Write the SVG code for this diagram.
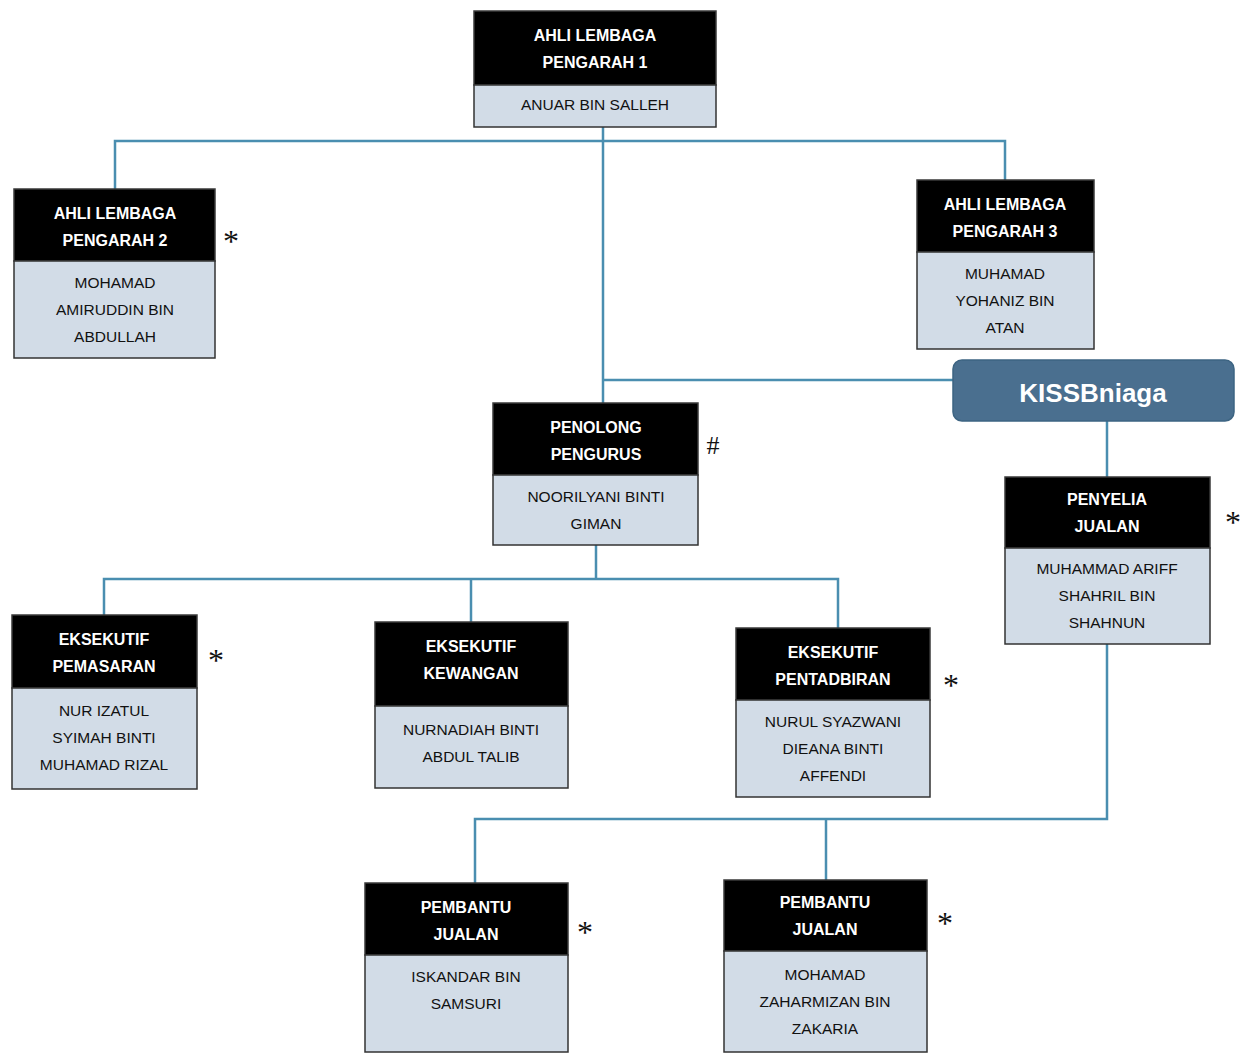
<svg xmlns="http://www.w3.org/2000/svg" width="1253" height="1053" viewBox="0 0 1253 1053">
<style>
.hd{fill:#000;stroke:#3a3a3a;stroke-width:1.5}
.bd{fill:#d2dce7;stroke:#333;stroke-width:1.5}
.ht{font-family:"Liberation Sans",Arial,sans-serif;font-weight:bold;font-size:16px;fill:#fff;text-anchor:middle}
.bt{font-family:"Liberation Sans",Arial,sans-serif;font-size:15.5px;fill:#111;text-anchor:middle}
.mk{font-family:"Liberation Serif","Times New Roman",serif;font-size:32px;fill:#111;text-anchor:middle}
.cn{fill:none;stroke:#4a8eb0;stroke-width:2.5}
</style>
<rect width="1253" height="1053" fill="#fff"/>
<g id="connectors">
<path class="cn" d="M115,189 V141 H1005 V180"/>
<path class="cn" d="M603,127 V403"/>
<path class="cn" d="M603,380 H953"/>
<path class="cn" d="M1107,421 V477"/>
<path class="cn" d="M596,545 V579"/>
<path class="cn" d="M104,615 V579 H838 V628"/>
<path class="cn" d="M471,579 V622"/>
<path class="cn" d="M1107,644 V819 H475 V883"/>
<path class="cn" d="M826,819 V880"/>
</g>
<g id="n1">
<rect class="hd" x="474" y="11" width="242" height="74"/>
<rect class="bd" x="474" y="85" width="242" height="42"/>
<text class="ht" x="595" y="41">AHLI LEMBAGA</text>
<text class="ht" x="595" y="68">PENGARAH 1</text>
<text class="bt" x="595" y="110">ANUAR BIN SALLEH</text>
</g>
<g id="n2">
<rect class="hd" x="14" y="189" width="201" height="72"/>
<rect class="bd" x="14" y="261" width="201" height="97"/>
<text class="ht" x="115" y="219">AHLI LEMBAGA</text>
<text class="ht" x="115" y="246">PENGARAH 2</text>
<text class="bt" x="115" y="288">MOHAMAD</text>
<text class="bt" x="115" y="315">AMIRUDDIN BIN</text>
<text class="bt" x="115" y="342">ABDULLAH</text>
<text class="mk" x="231" y="252">*</text>
</g>
<g id="n3">
<rect class="hd" x="917" y="180" width="177" height="72"/>
<rect class="bd" x="917" y="252" width="177" height="97"/>
<text class="ht" x="1005" y="210">AHLI LEMBAGA</text>
<text class="ht" x="1005" y="237">PENGARAH 3</text>
<text class="bt" x="1005" y="279">MUHAMAD</text>
<text class="bt" x="1005" y="306">YOHANIZ BIN</text>
<text class="bt" x="1005" y="333">ATAN</text>
</g>
<g id="kiss">
<rect x="953" y="360" width="281" height="61" rx="9" fill="#4a6f8f" stroke="#3d6482" stroke-width="1.5"/>
<text x="1093" y="402" font-family="'Liberation Sans',Arial,sans-serif" font-weight="bold" font-size="26" fill="#fff" text-anchor="middle">KISSBniaga</text>
</g>
<g id="n4">
<rect class="hd" x="493" y="403" width="205" height="72"/>
<rect class="bd" x="493" y="475" width="205" height="70"/>
<text class="ht" x="596" y="433">PENOLONG</text>
<text class="ht" x="596" y="460">PENGURUS</text>
<text class="bt" x="596" y="502">NOORILYANI BINTI</text>
<text class="bt" x="596" y="529">GIMAN</text>
<text x="713" y="454" font-family="'Liberation Serif','Times New Roman',serif" font-size="26" fill="#111" text-anchor="middle">#</text>
</g>
<g id="n5">
<rect class="hd" x="1005" y="477" width="205" height="71"/>
<rect class="bd" x="1005" y="548" width="205" height="96"/>
<text class="ht" x="1107" y="505">PENYELIA</text>
<text class="ht" x="1107" y="532">JUALAN</text>
<text class="bt" x="1107" y="574">MUHAMMAD ARIFF</text>
<text class="bt" x="1107" y="601">SHAHRIL BIN</text>
<text class="bt" x="1107" y="628">SHAHNUN</text>
<text class="mk" x="1233" y="533">*</text>
</g>
<g id="n6">
<rect class="hd" x="12" y="615" width="185" height="73"/>
<rect class="bd" x="12" y="688" width="185" height="101"/>
<text class="ht" x="104" y="645">EKSEKUTIF</text>
<text class="ht" x="104" y="672">PEMASARAN</text>
<text class="bt" x="104" y="716">NUR IZATUL</text>
<text class="bt" x="104" y="743">SYIMAH BINTI</text>
<text class="bt" x="104" y="770">MUHAMAD RIZAL</text>
<text class="mk" x="216" y="671">*</text>
</g>
<g id="n7">
<rect class="hd" x="375" y="622" width="193" height="84"/>
<rect class="bd" x="375" y="706" width="193" height="82"/>
<text class="ht" x="471" y="652">EKSEKUTIF</text>
<text class="ht" x="471" y="679">KEWANGAN</text>
<text class="bt" x="471" y="735">NURNADIAH BINTI</text>
<text class="bt" x="471" y="762">ABDUL TALIB</text>
</g>
<g id="n8">
<rect class="hd" x="736" y="628" width="194" height="72"/>
<rect class="bd" x="736" y="700" width="194" height="97"/>
<text class="ht" x="833" y="658">EKSEKUTIF</text>
<text class="ht" x="833" y="685">PENTADBIRAN</text>
<text class="bt" x="833" y="727">NURUL SYAZWANI</text>
<text class="bt" x="833" y="754">DIEANA BINTI</text>
<text class="bt" x="833" y="781">AFFENDI</text>
<text class="mk" x="951" y="696">*</text>
</g>
<g id="n9">
<rect class="hd" x="365" y="883" width="203" height="72"/>
<rect class="bd" x="365" y="955" width="203" height="97"/>
<text class="ht" x="466" y="913">PEMBANTU</text>
<text class="ht" x="466" y="940">JUALAN</text>
<text class="bt" x="466" y="982">ISKANDAR BIN</text>
<text class="bt" x="466" y="1009">SAMSURI</text>
<text class="mk" x="585" y="943">*</text>
</g>
<g id="n10">
<rect class="hd" x="724" y="880" width="203" height="71"/>
<rect class="bd" x="724" y="951" width="203" height="101"/>
<text class="ht" x="825" y="908">PEMBANTU</text>
<text class="ht" x="825" y="935">JUALAN</text>
<text class="bt" x="825" y="980">MOHAMAD</text>
<text class="bt" x="825" y="1007">ZAHARMIZAN BIN</text>
<text class="bt" x="825" y="1034">ZAKARIA</text>
<text class="mk" x="945" y="934">*</text>
</g>
</svg>
